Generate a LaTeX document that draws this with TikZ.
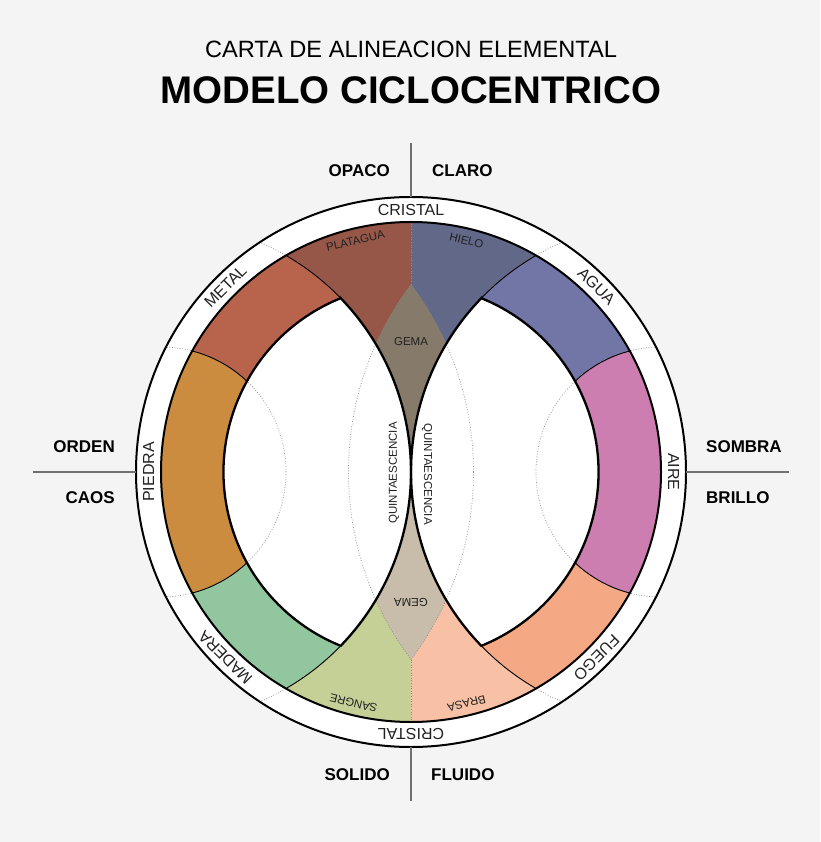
\documentclass[tikz,border=0pt]{standalone}
\usepackage{fontspec}
\setmainfont{Liberation Sans}
\definecolor{bgc}{HTML}{F4F4F4}
\definecolor{cPlat}{HTML}{965748}
\definecolor{cHielo}{HTML}{626888}
\definecolor{cMetal}{HTML}{B8644C}
\definecolor{cAgua}{HTML}{7276A6}
\definecolor{cPiedra}{HTML}{CC8C40}
\definecolor{cAire}{HTML}{CC7EB0}
\definecolor{cMadera}{HTML}{92C69E}
\definecolor{cFuego}{HTML}{F4A884}
\definecolor{cSangre}{HTML}{C4D096}
\definecolor{cBrasa}{HTML}{F8C0A4}
\definecolor{cGemaT}{HTML}{867A6A}
\definecolor{cGemaB}{HTML}{C8BCAA}
\definecolor{txtc}{HTML}{222222}
\definecolor{axisc}{HTML}{707070}
\definecolor{dotc}{HTML}{8A8A8A}
\newcommand{\cRingFont}{\fontsize{16}{19}\selectfont}
\newcommand{\cInnerFont}{\fontsize{11.5}{14}\selectfont}
\begin{document}
\begin{tikzpicture}[x=1pt,y=1pt,
  thickline/.style={line width=2.3pt, draw=black},
  circline/.style={line width=2pt, draw=black},
  thinline/.style={line width=0.9pt, draw=black},
  dotline/.style={line width=0.7pt, draw=dotc, dash pattern=on 0.8pt off 1.8pt},
  axisline/.style={line width=2pt, draw=axisc},
  ringlbl/.style={font=\cRingFont, inner sep=0pt, text=txtc},
  boldlabel/.style={font=\bfseries\fontsize{17}{20}\selectfont, inner sep=0pt, text=black},
  inlbl/.style={font=\cInnerFont, inner sep=0pt, text=txtc},
]
\useasboundingbox (-411,-370) rectangle (409,472);
\fill[bgc] (-411,-370) rectangle (409,472);
\fill[white] (0,0) circle[radius=275];

% coloured sectors
\begin{scope}
  \clip (0,0) circle[radius=250];
  \fill[cPlat] (-260,0) rectangle (0,260);
  \fill[cHielo] (0,0) rectangle (260,260);
  \fill[cSangre] (-260,-260) rectangle (0,0);
  \fill[cBrasa] (0,-260) rectangle (260,0);
  \begin{scope}
    \clip (250,0) circle[radius=312.5];
    \clip (-250,0) circle[radius=312.5];
    \fill[cGemaT] (-260,0) rectangle (260,260);
    \fill[cGemaB] (-260,-260) rectangle (260,0);
  \end{scope}
  \begin{scope}
    \clip (-250,0) circle[radius=250];
    \fill[cMetal] (-510,0) rectangle (0,260);
    \fill[cMadera] (-510,-260) rectangle (0,0);
    \fill[cPiedra] (-250,0) circle[radius=125];
  \end{scope}
  \begin{scope}
    \clip (250,0) circle[radius=250];
    \fill[cAgua] (0,0) rectangle (510,260);
    \fill[cFuego] (0,-260) rectangle (510,0);
    \fill[cAire] (250,0) circle[radius=125];
  \end{scope}
\end{scope}

% white inner regions
\fill[white] (112.024:187.5) arc[start angle=112.024, end angle=247.976, radius=187.5]
  arc[start angle=-44.05, end angle=44.05, radius=250] -- cycle;
\fill[white] (67.976:187.5) arc[start angle=67.976, end angle=-67.976, radius=187.5]
  arc[start angle=224.05, end angle=135.95, radius=250] -- cycle;

% dotted guide lines
\begin{scope}
  \clip (0,0) circle[radius=275];
  \draw[dotline] (-250,0) circle[radius=125] (250,0) circle[radius=125]
                 (-250,0) circle[radius=250] (250,0) circle[radius=250];
\end{scope}
\begin{scope}
  \clip (-300,-300) rectangle (0,300);
  \draw[dotline] (250,0) circle[radius=312.5];
\end{scope}
\begin{scope}
  \clip (0,-300) rectangle (300,300);
  \draw[dotline] (-250,0) circle[radius=312.5];
\end{scope}
\draw[dotline] (0,187.5) -- (0,250) (0,-187.5) -- (0,-250);

% thin sector borders
\draw[thinline] (-250,0) ++(75.52:125) arc[start angle=75.52, end angle=46.57, radius=125];
\draw[thinline] (-250,0) ++(-46.57:125) arc[start angle=-46.57, end angle=-75.52, radius=125];
\draw[thinline] (250,0) ++(104.48:125) arc[start angle=104.48, end angle=133.43, radius=125];
\draw[thinline] (250,0) ++(226.57:125) arc[start angle=226.57, end angle=255.52, radius=125];
\draw[thinline] (-250,0) ++(60:250) arc[start angle=60, end angle=44.05, radius=250];
\draw[thinline] (-250,0) ++(-44.05:250) arc[start angle=-44.05, end angle=-60, radius=250];
\draw[thinline] (250,0) ++(120:250) arc[start angle=120, end angle=135.95, radius=250];
\draw[thinline] (250,0) ++(224.05:250) arc[start angle=224.05, end angle=240, radius=250];

% thick outlines
\draw[thickline] (112.024:187.5) arc[start angle=112.024, end angle=247.976, radius=187.5]
  arc[start angle=-44.05, end angle=44.05, radius=250] -- cycle;
\draw[thickline] (67.976:187.5) arc[start angle=67.976, end angle=-67.976, radius=187.5]
  arc[start angle=224.05, end angle=135.95, radius=250] -- cycle;
\draw[circline] (0,0) circle[radius=250];
\draw[circline] (0,0) circle[radius=275];

% axis lines
\coordinate (ringT) at (0,275);  \coordinate (axT) at (0,329);
\coordinate (ringB) at (0,-275); \coordinate (axB) at (0,-329);
\coordinate (ringL) at (-275,0); \coordinate (axL) at (-378,0);
\coordinate (ringR) at (275,0);  \coordinate (axR) at (378,0);
\draw[axisline] (ringT) -- (axT);
\draw[axisline] (ringB) -- (axB);
\draw[axisline] (ringL) -- (axL);
\draw[axisline] (ringR) -- (axR);

% ring labels
\node[ringlbl, rotate=0]   (cristalT) at (90:262.5)  {CRISTAL};
\node[ringlbl, rotate=180] (cristalB) at (270:262.5) {CRISTAL};
\node[ringlbl, rotate=45]  (metal)    at (135:262.5) {METAL};
\node[ringlbl, rotate=-45] (agua)     at (45:262.5)  {AGUA};
\node[ringlbl, rotate=90]  (piedra)   at (180:262.5) {PIEDRA};
\node[ringlbl, rotate=-90] (aire)     at (0:262.5)   {AIRE};
\node[ringlbl, rotate=135] (madera)   at (225:262.5) {MADERA};
\node[ringlbl, rotate=225] (fuego)    at (315:262.5) {FUEGO};

% inner labels
\node[inlbl, rotate=13.5]  (platagua) at (103.5:238) {PLATAGUA};
\node[inlbl, rotate=-13.5] (hielo)    at (76.5:238)  {HIELO};
\node[inlbl, rotate=166]   (sangre)   at (256:238)   {SANGRE};
\node[inlbl, rotate=193.5] (brasa)    at (283.5:238) {BRASA};

\node[inlbl] (gemaT) at (0,130) {GEMA};
\node[inlbl, rotate=180] (gemaB) at (0,-130) {GEMA};
\node[inlbl, rotate=90] (quintL) at (-17,-1) {QUINTAESCENCIA};
\node[inlbl, rotate=-90] (quintR) at (16,-2) {QUINTAESCENCIA};

% outer labels
\node[boldlabel, anchor=east] (opaco) at (-21,301) {OPACO};
\node[boldlabel, anchor=west] (claro) at (21,301) {CLARO};
\node[boldlabel, anchor=east] (orden) at (-296,25) {ORDEN};
\node[boldlabel, anchor=east] (caos) at (-296,-26) {CAOS};
\node[boldlabel, anchor=west] (sombra) at (295,25) {SOMBRA};
\node[boldlabel, anchor=west] (brillo) at (295,-26) {BRILLO};
\node[boldlabel, anchor=east] (solido) at (-21,-303) {SOLIDO};
\node[boldlabel, anchor=west] (fluido) at (20,-303) {FLUIDO};

% titles
\node[inner sep=0pt] (title1) at (0,422.5) {\fontsize{23.6}{28}\selectfont CARTA DE ALINEACION ELEMENTAL};
\node[inner sep=0pt] (title2) at (0,382) {\fontsize{38.5}{44}\selectfont\bfseries MODELO CICLOCENTRICO};
\end{tikzpicture}
\end{document}
